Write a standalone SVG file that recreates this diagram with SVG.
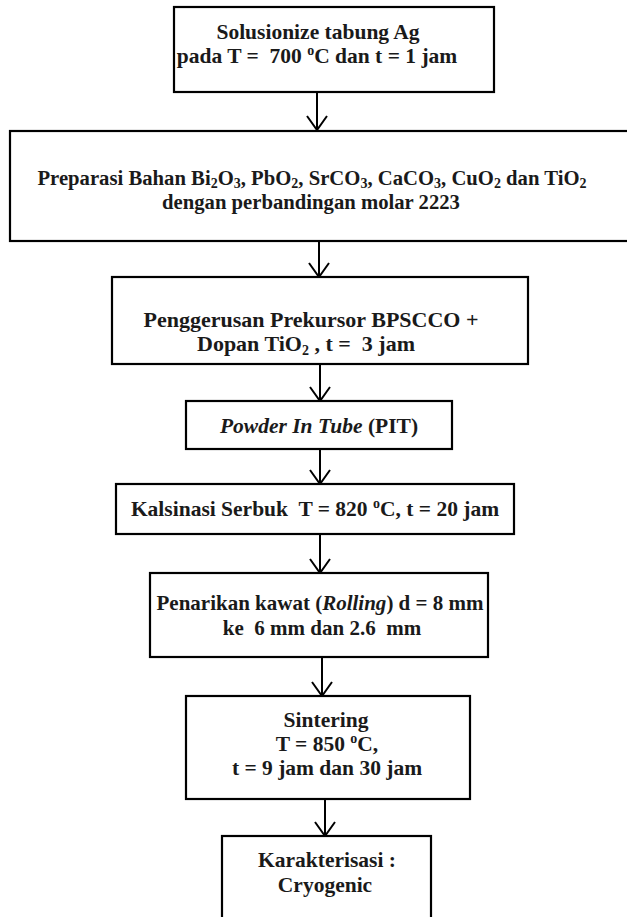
<svg xmlns="http://www.w3.org/2000/svg" width="627" height="917" viewBox="0 0 627 917">
<style>
.box{fill:#fff;stroke:#000;stroke-width:2.2}
.t{font-family:"Liberation Serif","Times New Roman",serif;font-weight:bold;font-size:21.5px;fill:#1a1a1a;text-anchor:middle;white-space:pre}
.sub{font-size:14px}
.sup{font-size:14px}
.con line,.con path{stroke:#000;stroke-width:2;fill:none}
</style>
<rect width="627" height="917" fill="#fff"/>
<g class="con">
<line x1="317" y1="92" x2="317" y2="130"/>
<path d="M307,116 L317,130 L327,116"/>
<line x1="319" y1="241" x2="319" y2="277"/>
<path d="M309,263 L319,277 L329,263"/>
<line x1="320" y1="364" x2="320" y2="401"/>
<path d="M310,387 L320,401 L330,387"/>
<line x1="320" y1="449" x2="320" y2="484"/>
<path d="M310,470 L320,484 L330,470"/>
<line x1="320" y1="534" x2="320" y2="573"/>
<path d="M310,559 L320,573 L330,559"/>
<line x1="322" y1="657" x2="322" y2="696"/>
<path d="M312,682 L322,696 L332,682"/>
<line x1="325" y1="799" x2="325" y2="836"/>
<path d="M315,822 L325,836 L335,822"/>
</g>
<g id="n1">
<rect class="box" x="174" y="7" width="320" height="85"/>
<text class="t" x="318" y="39">Solusionize tabung Ag</text>
<text class="t" x="317" y="63">pada T =  700 <tspan class="sup" dy="-8">o</tspan><tspan dy="8">C dan t = 1 jam</tspan></text>
</g>
<g id="n2">
<rect class="box" x="10" y="131" width="625" height="110"/>
<text class="t" x="312" y="185" style="font-size:20.7px">Preparasi Bahan Bi<tspan class="sub" dy="3">2</tspan><tspan dy="-3">O</tspan><tspan class="sub" dy="3">3</tspan><tspan dy="-3">, PbO</tspan><tspan class="sub" dy="3">2</tspan><tspan dy="-3">, SrCO</tspan><tspan class="sub" dy="3">3</tspan><tspan dy="-3">, CaCO</tspan><tspan class="sub" dy="3">3</tspan><tspan dy="-3">, CuO</tspan><tspan class="sub" dy="3">2</tspan><tspan dy="-3"> dan TiO</tspan><tspan class="sub" dy="3">2</tspan></text>
<text class="t" x="311" y="209" style="font-size:20.7px">dengan perbandingan molar 2223</text>
</g>
<g id="n3">
<rect class="box" x="112" y="277" width="416" height="87"/>
<text class="t" x="311" y="327" style="font-size:22px">Penggerusan Prekursor BPSCCO +</text>
<text class="t" x="306" y="351" style="font-size:22px">Dopan TiO<tspan class="sub" dy="4">2</tspan><tspan dy="-4"> , t =  3 jam</tspan></text>
</g>
<g id="n4">
<rect class="box" x="186" y="401" width="266" height="48"/>
<text class="t" x="319" y="433"><tspan font-style="italic">Powder In Tube</tspan> (PIT)</text>
</g>
<g id="n5">
<rect class="box" x="116" y="484" width="398" height="50"/>
<text class="t" x="315" y="516">Kalsinasi Serbuk  T = 820 <tspan class="sup" dy="-8">o</tspan><tspan dy="8">C, t = 20 jam</tspan></text>
</g>
<g id="n6">
<rect class="box" x="150" y="573" width="338" height="84"/>
<text class="t" x="320" y="610" style="font-size:21px">Penarikan kawat (<tspan font-style="italic">Rolling</tspan>) d = 8 mm</text>
<text class="t" x="322" y="635" style="font-size:21px">ke  6 mm dan 2.6  mm</text>
</g>
<g id="n7">
<rect class="box" x="186" y="696" width="284" height="103"/>
<text class="t" x="326" y="727">Sintering</text>
<text class="t" x="327" y="751">T = 850 <tspan class="sup" dy="-8">o</tspan><tspan dy="8">C,</tspan></text>
<text class="t" x="327" y="775">t = 9 jam dan 30 jam</text>
</g>
<g id="n8">
<rect class="box" x="222" y="836" width="209" height="100"/>
<text class="t" x="327" y="867">Karakterisasi :</text>
<text class="t" x="325" y="892">Cryogenic</text>
</g>
</svg>
